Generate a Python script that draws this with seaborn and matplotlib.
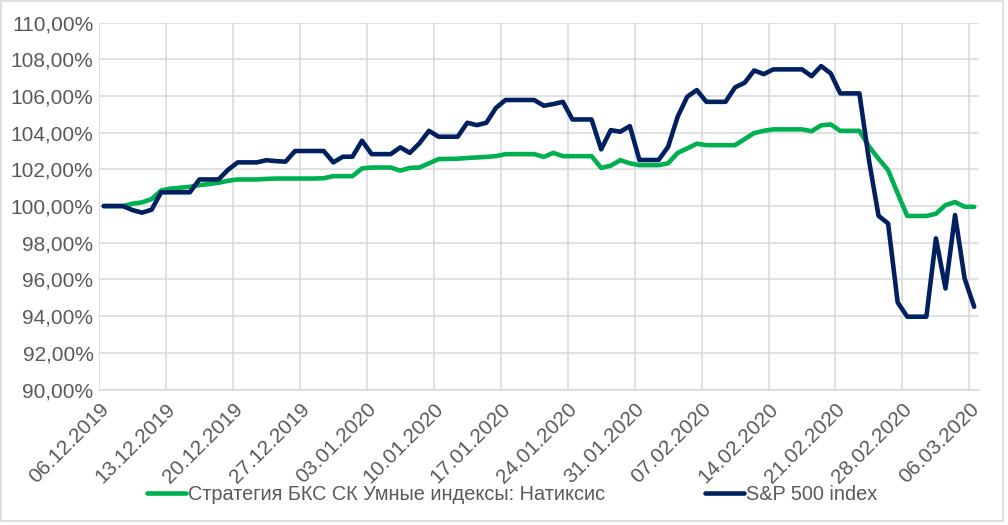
import matplotlib
matplotlib.use("Agg")
import matplotlib.pyplot as plt
import matplotlib.dates as mdates
from matplotlib.ticker import FuncFormatter, MultipleLocator
from matplotlib.patches import Rectangle
import seaborn as sns
import numpy as np
import pandas as pd

# Données : valeurs quotidiennes (week-ends reportés), en %
start_date = "2019-12-06"
end_date = "2020-03-06"

strategy_label = "Стратегия БКС СК Умные индексы: Натиксис"
sp500_label = "S&P 500 index"

strategy = [
    100.00, 100.00, 100.00, 100.13, 100.20, 100.38, 100.85, 100.95, 101.00, 101.05,
    101.14, 101.20, 101.27, 101.38, 101.45, 101.45, 101.45, 101.48, 101.50, 101.50,
    101.50, 101.50, 101.50, 101.52, 101.63, 101.63, 101.63, 102.05, 102.10, 102.10,
    102.10, 101.93, 102.08, 102.10, 102.33, 102.56, 102.57, 102.58, 102.62, 102.65,
    102.68, 102.72, 102.83, 102.83, 102.83, 102.83, 102.68, 102.90, 102.72, 102.72,
    102.72, 102.72, 102.08, 102.20, 102.50, 102.33, 102.23, 102.23, 102.23, 102.33,
    102.90, 103.14, 103.40, 103.32, 103.32, 103.32, 103.32, 103.65, 103.98, 104.10,
    104.18, 104.18, 104.18, 104.18, 104.08, 104.40, 104.45, 104.10, 104.10, 104.10,
    103.25, 102.58, 101.96, 100.69, 99.46, 99.46, 99.46, 99.58, 100.05, 100.22,
    99.96, 99.96,
]

sp500 = [
    100.00, 100.00, 100.00, 99.78, 99.64, 99.80, 100.75, 100.75, 100.75, 100.75,
    101.45, 101.45, 101.45, 101.98, 102.38, 102.38, 102.38, 102.50, 102.45, 102.42,
    103.00, 103.00, 103.00, 103.00, 102.38, 102.69, 102.69, 103.56, 102.83, 102.83,
    102.83, 103.20, 102.90, 103.42, 104.10, 103.78, 103.78, 103.78, 104.54, 104.41,
    104.54, 105.35, 105.78, 105.78, 105.78, 105.78, 105.47, 105.56, 105.68, 104.72,
    104.72, 104.72, 103.09, 104.14, 104.05, 104.36, 102.51, 102.51, 102.51, 103.23,
    104.87, 105.96, 106.32, 105.68, 105.68, 105.68, 106.47, 106.72, 107.39, 107.19,
    107.45, 107.45, 107.45, 107.45, 107.08, 107.63, 107.23, 106.14, 106.14, 106.14,
    102.50, 99.47, 99.05, 94.75, 93.97, 93.97, 93.97, 98.24, 95.51, 99.51,
    96.05, 94.51,
]

dates = pd.date_range(start_date, end_date, freq="D")
# Axe de dates Excel : chaque point au milieu de sa journée
points = dates + pd.Timedelta(hours=12)

df = pd.concat([
    pd.DataFrame({"date": points, "valeur": strategy, "serie": strategy_label}),
    pd.DataFrame({"date": points, "valeur": sp500, "serie": sp500_label}),
])

sns.set_style("white")
plt.rcParams["font.family"] = ["Liberation Sans", "DejaVu Sans"]

GREEN = "#00B050"
NAVY = "#002060"
GRID = "#D9D9D9"
TEXT = "#595959"

fig = plt.figure(figsize=(10.08, 5.25), dpi=100)
ax = fig.add_axes([0.0982, 0.258, 0.873, 0.699])

sns.lineplot(data=df, x="date", y="valeur", hue="serie",
             palette={strategy_label: GREEN, sp500_label: NAVY},
             linewidth=3.3, ax=ax, legend=False)

ax.set_ylim(90, 110)
ax.yaxis.set_major_locator(MultipleLocator(2))
ax.yaxis.set_major_formatter(
    FuncFormatter(lambda v, _: f"{v:.2f}%".replace(".", ",")))

ax.set_xlim(dates[0], dates[-1] + pd.Timedelta(days=1))
ax.set_xticks(dates[::7])
ax.xaxis.set_major_formatter(mdates.DateFormatter("%d.%m.%Y"))
for lab in ax.get_xticklabels():
    lab.set_rotation(45)
    lab.set_ha("right")
    lab.set_va("top")
    lab.set_rotation_mode("anchor")

ax.tick_params(axis="both", length=0, labelsize=15, colors=TEXT)
ax.tick_params(axis="y", pad=4)
ax.tick_params(axis="x", pad=7)

ax.grid(True, color=GRID, linewidth=1.1)
ax.set_axisbelow(True)
for side in ["top", "right", "left"]:
    ax.spines[side].set_visible(False)
ax.spines["bottom"].set_color(GRID)
ax.spines["bottom"].set_linewidth(1.1)

ax.set_xlabel("")
ax.set_ylabel("")

# Légende en bas
handles = [plt.Line2D([], [], color=GREEN, linewidth=3.3),
           plt.Line2D([], [], color=NAVY, linewidth=3.3)]
leg = ax.legend(handles, [strategy_label, sp500_label],
                loc="center", bbox_to_anchor=(0.508, 0.059),
                bbox_transform=fig.transFigure, ncol=2, frameon=False,
                handlelength=2.0, handletextpad=0.1, columnspacing=5.0,
                fontsize=14.3)
for t in leg.get_texts():
    t.set_color(TEXT)

# Cadre du graphique
fig.patches.append(Rectangle((0.001, 0.008), 0.994, 0.99,
                             transform=fig.transFigure, fill=False,
                             edgecolor=GRID, linewidth=1.2))

fig.savefig("out.png", dpi=100)
plt.close(fig)
